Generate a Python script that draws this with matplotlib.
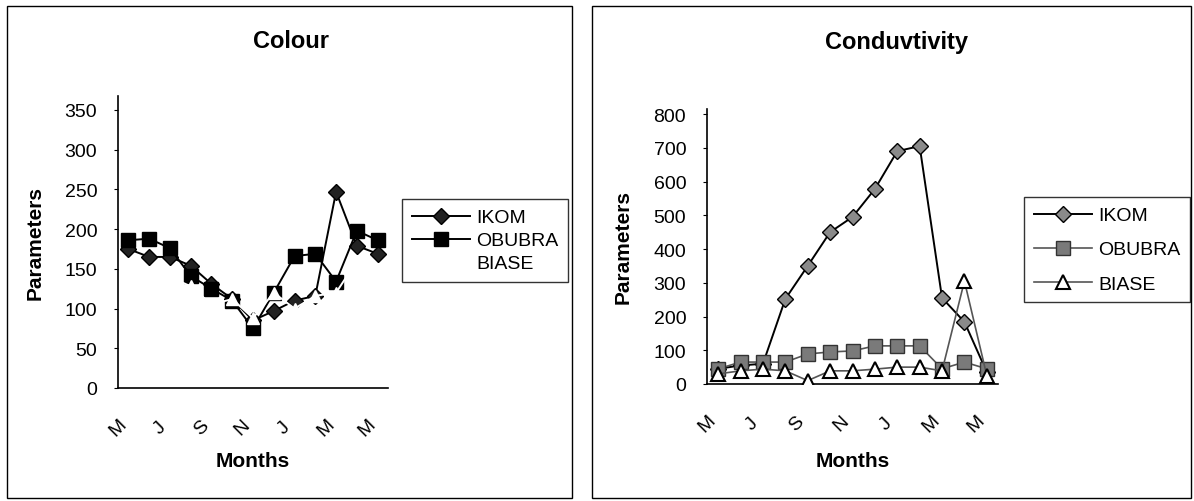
import matplotlib
matplotlib.use("Agg")
import matplotlib.pyplot as plt
from matplotlib.patches import Rectangle

plt.rcParams['font.family'] = ['Liberation Sans', 'DejaVu Sans']

months = ["M", "J", "J", "A", "S", "O", "N", "D", "J", "F", "M", "A", "M"]
tick_idx = [0, 2, 4, 6, 8, 10, 12]

colour_ikom = [175, 165, 165, 154, 131, 112, 85, 97, 110, 116, 247, 179, 169]
colour_obubra = [186, 188, 176, 141, 125, 110, 75, 120, 166, 169, 134, 198, 186]
colour_biase = [150, 140, 140, 128, 105, 112, 88, 120, 100, 116, 120, 160, 150]

cond_ikom = [45, 55, 60, 252, 350, 450, 495, 578, 690, 705, 255, 184, 35]
cond_obubra = [45, 65, 65, 65, 89, 95, 98, 113, 113, 113, 45, 65, 45]
cond_biase = [30, 39, 44, 39, 10, 39, 39, 44, 50, 50, 39, 305, 25]

series = ["IKOM", "OBUBRA", "BIASE"]

fig = plt.figure(figsize=(11.94, 5.02), dpi=100)
W, H = 1194, 502

def fr(x0, y0, x1, y1):
    return [x0 / W, 1 - y1 / H, (x1 - x0) / W, (y1 - y0) / H]

# panel borders
for (x0, y0, x1, y1) in [(7, 7, 572, 499), (592, 7, 1191, 499)]:
    fig.patches.append(Rectangle((x0 / W, 1 - y1 / H), (x1 - x0) / W, (y1 - y0) / H,
                                 transform=fig.transFigure, fill=False,
                                 edgecolor='black', linewidth=1.0))

x = list(range(len(months)))

def style_axes(ax, ymax, yticks, xlab_y):
    ax.set_xlim(-0.5, len(months) - 0.5)
    ax.set_ylim(0, ymax)
    ax.set_yticks(yticks)
    ax.set_xticks([i - 0.5 for i in tick_idx])
    ax.set_xticklabels([months[i] for i in tick_idx], rotation=45, ha='center',
                       va='center', rotation_mode='anchor', fontsize=14)
    ax.tick_params(axis='y', labelsize=14, length=3, width=0.8, pad=12)
    ax.tick_params(axis='x', length=0, pad=28)
    ax.spines['top'].set_visible(False)
    ax.spines['right'].set_visible(False)
    ax.spines['left'].set_linewidth(1.2)
    ax.spines['bottom'].set_linewidth(1.2)
    ax.set_xlabel("Months", fontsize=15, fontweight='bold')
    ax.xaxis.set_label_coords(0.5, xlab_y)
    ax.set_ylabel("Parameters", fontsize=15, fontweight='bold')
    ax.patch.set_alpha(0)

# Left: Colour
ax1 = fig.add_axes(fr(118, 97, 388, 389))
ax1.plot(x, colour_ikom, color='black', lw=1.4, marker='D', ms=8,
         mfc='#222222', mec='black', label=series[0], zorder=3)
ax1.plot(x, colour_obubra, color='black', lw=1.4, marker='s', ms=10,
         mfc='black', mec='black', label=series[1], zorder=4)
ax1.plot(x, colour_biase, color='white', lw=1.4, marker='^', ms=9,
         mfc='white', mec='white', label=series[2], zorder=5)
style_axes(ax1, 367.6, [0, 50, 100, 150, 200, 250, 300, 350], -0.216)
ax1.yaxis.set_label_coords(-0.27, 0.5)
fig.text(291 / W, 1 - 42 / H, "Colour", ha='center', va='center',
         fontsize=17, fontweight='bold')
leg1 = ax1.legend(loc='upper left', bbox_to_anchor=((402 - 118) / 270, (389 - 200) / 292),
                  fontsize=14, frameon=True, fancybox=False, edgecolor='black',
                  handlelength=3.0, borderpad=0.5, labelspacing=0.28,
                  handletextpad=0.3, borderaxespad=0)
leg1.get_frame().set_linewidth(1.0)

# Right: Conduvtivity
ax2 = fig.add_axes(fr(707, 110, 998, 385))
ax2.plot(x, cond_ikom, color='black', lw=1.4, marker='D', ms=8,
         mfc='#8a8a8a', mec='black', label=series[0], zorder=3)
ax2.plot(x, cond_obubra, color='#555555', lw=1.2, marker='s', ms=10,
         mfc='#7a7a7a', mec='#333333', label=series[1], zorder=4)
ax2.plot(x, cond_biase, color='#555555', lw=1.2, marker='^', ms=10,
         mfc='white', mec='black', mew=1.5, label=series[2], zorder=5)
style_axes(ax2, 815, [0, 100, 200, 300, 400, 500, 600, 700, 800], -0.244)
ax2.yaxis.set_label_coords(-0.255, 0.5)
fig.text(897 / W, 1 - 42 / H, "Conduvtivity", ha='center', va='center',
         fontsize=17, fontweight='bold')
leg2 = ax2.legend(loc='upper left', bbox_to_anchor=((1024 - 707) / 291, (385 - 198) / 275),
                  fontsize=14, frameon=True, fancybox=False, edgecolor='black',
                  handlelength=3.0, borderpad=0.5, labelspacing=0.85,
                  handletextpad=0.3, borderaxespad=0)
leg2.get_frame().set_linewidth(1.0)

fig.savefig("out.png", dpi=100)
